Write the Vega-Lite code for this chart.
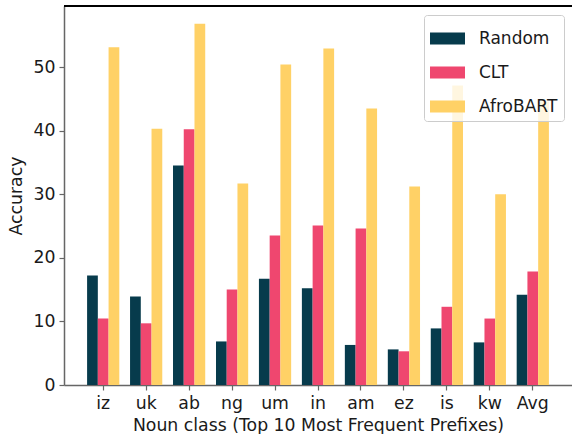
{
  "$schema": "https://vega.github.io/schema/vega-lite/v6.json",
  "autosize": {"type": "none"},
  "padding": {"left": 64, "top": 6, "right": 0, "bottom": 49},
  "width": 508,
  "height": 379,
  "background": "white",
  "config": {
    "font": "DejaVu Sans",
    "view": {"stroke": null},
    "axis": {"grid": false, "domainColor": "#666666", "tickColor": "#666666", "labelColor": "#1a1a1a", "titleColor": "#1a1a1a", "labelFontSize": 17.3, "titleFontSize": 17.3, "titleFontWeight": "normal", "tickSize": 5, "domainWidth": 1.5, "tickWidth": 1.2}
  },
  "data": {
    "values": [
      {"cls": "iz", "model": "Random", "acc": 17.2},
      {"cls": "iz", "model": "CLT", "acc": 10.45},
      {"cls": "iz", "model": "AfroBART", "acc": 53.1},
      {"cls": "uk", "model": "Random", "acc": 13.9},
      {"cls": "uk", "model": "CLT", "acc": 9.7},
      {"cls": "uk", "model": "AfroBART", "acc": 40.3},
      {"cls": "ab", "model": "Random", "acc": 34.5},
      {"cls": "ab", "model": "CLT", "acc": 40.2},
      {"cls": "ab", "model": "AfroBART", "acc": 56.8},
      {"cls": "ng", "model": "Random", "acc": 6.85},
      {"cls": "ng", "model": "CLT", "acc": 15.0},
      {"cls": "ng", "model": "AfroBART", "acc": 31.7},
      {"cls": "um", "model": "Random", "acc": 16.7},
      {"cls": "um", "model": "CLT", "acc": 23.5},
      {"cls": "um", "model": "AfroBART", "acc": 50.4},
      {"cls": "in", "model": "Random", "acc": 15.2},
      {"cls": "in", "model": "CLT", "acc": 25.1},
      {"cls": "in", "model": "AfroBART", "acc": 52.9},
      {"cls": "am", "model": "Random", "acc": 6.3},
      {"cls": "am", "model": "CLT", "acc": 24.6},
      {"cls": "am", "model": "AfroBART", "acc": 43.5},
      {"cls": "ez", "model": "Random", "acc": 5.6},
      {"cls": "ez", "model": "CLT", "acc": 5.3},
      {"cls": "ez", "model": "AfroBART", "acc": 31.2},
      {"cls": "is", "model": "Random", "acc": 8.9},
      {"cls": "is", "model": "CLT", "acc": 12.3},
      {"cls": "is", "model": "AfroBART", "acc": 47.1},
      {"cls": "kw", "model": "Random", "acc": 6.7},
      {"cls": "kw", "model": "CLT", "acc": 10.45},
      {"cls": "kw", "model": "AfroBART", "acc": 30.0},
      {"cls": "Avg", "model": "Random", "acc": 14.2},
      {"cls": "Avg", "model": "CLT", "acc": 17.85},
      {"cls": "Avg", "model": "AfroBART", "acc": 44.6}
    ]
  },
  "layer": [
    {
      "mark": {"type": "bar"},
      "encoding": {
        "x": {
          "field": "cls", "type": "nominal", "sort": null,
          "title": "Noun class (Top 10 Most Frequent Prefixes)",
          "scale": {"paddingInner": 0.25, "paddingOuter": 0.5375},
          "axis": {"labelAngle": 0, "labelPadding": 4, "titlePadding": 5}
        },
        "xOffset": {"field": "model", "type": "nominal", "sort": ["Random", "CLT", "AfroBART"], "scale": {"paddingInner": 0, "paddingOuter": 0}},
        "y": {
          "field": "acc", "type": "quantitative", "title": "Accuracy",
          "scale": {"domain": [0, 59.6], "nice": false, "zero": true},
          "axis": {"values": [0, 10, 20, 30, 40, 50], "labelPadding": 4, "titlePadding": 8}
        },
        "color": {
          "field": "model", "type": "nominal",
          "scale": {"domain": ["Random", "CLT", "AfroBART"], "range": ["#073b4c", "#ef476f", "#ffd166"]},
          "legend": {
            "title": null, "orient": "none", "legendX": 360, "legendY": 9,
            "labelFontSize": 17, "labelColor": "#1a1a1a", "labelOffset": 14,
            "symbolType": "M-1,-0.34L1,-0.34L1,0.34L-1,0.34Z", "symbolSize": 1225,
            "symbolStrokeWidth": 0, "symbolOpacity": 1,
            "rowPadding": 8, "padding": 6,
            "fillColor": "rgba(255,255,255,0.8)", "strokeColor": "#cccccc", "cornerRadius": 3
          }
        }
      }
    },
    {
      "mark": {"type": "rule", "color": "black", "strokeWidth": 1.5},
      "encoding": {"y": {"datum": 59.6}}
    }
  ]
}
